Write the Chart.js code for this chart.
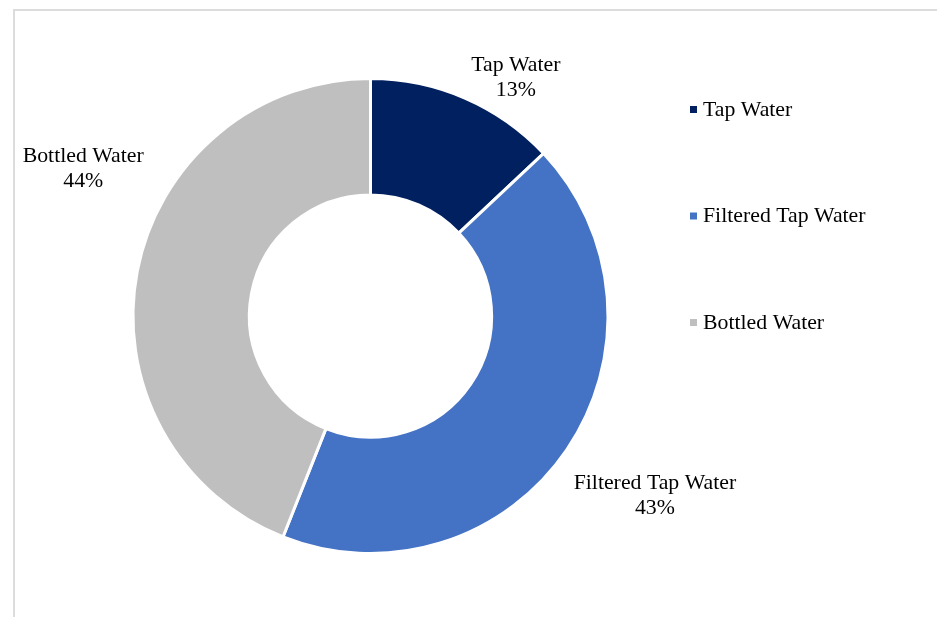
<!DOCTYPE html>
<html>
<head>
<meta charset="utf-8">
<script src="https://cdn.jsdelivr.net/npm/chart.js@4.4.0/dist/chart.umd.min.js"></script>
<style>
    html, body { margin: 0; padding: 0; background: #fff; overflow: hidden; }
    #wrap { position: relative; width: 937px; height: 617px; }
    #frame { position: absolute; left: 13px; top: 9px; width: 940px; height: 620px;
             border-top: 2px solid #dcdcdc; border-left: 2px solid #dcdcdc; }
    canvas { position: absolute; left: 0; top: 0; }
</style>
</head>
<body>
<div id="wrap">
    <div id="frame"></div>
    <canvas id="myChart" width="937" height="617"></canvas>
</div>
<script>
const categories = ["Tap Water", "Filtered Tap Water", "Bottled Water"];
const shares = [13, 43, 44];
const sliceColors = ["#002060", "#4472C4", "#BFBFBF"];

// where each data label sits, relative to the outer middle of its slice
const labelShift = [[51, -21], [88, 46], [-54, -103]];

const FONT = "21.8px 'Liberation Serif', 'Times New Roman', serif";

const labelsPlugin = {
    id: "labelsPlugin",
    afterDraw(chart) {
        const ctx = chart.ctx;
        const meta = chart.getDatasetMeta(0);
        ctx.save();
        ctx.font = FONT;
        ctx.fillStyle = "#000";
        ctx.textAlign = "center";
        ctx.textBaseline = "middle";
        meta.data.forEach((arc, i) => {
            const mid = (arc.startAngle + arc.endAngle) / 2;
            const x = arc.x + Math.cos(mid) * arc.outerRadius + labelShift[i][0];
            const y = arc.y + Math.sin(mid) * arc.outerRadius + labelShift[i][1];
            ctx.fillText(categories[i], x, y - 12);
            ctx.fillText(shares[i] + "%", x, y + 13);
        });

        // legend on the right
        const lx = 690;
        let ly = 109;
        ctx.textAlign = "left";
        categories.forEach((name, i) => {
            ctx.fillStyle = sliceColors[i];
            ctx.fillRect(lx, ly - 3, 7, 7);
            ctx.fillStyle = "#000";
            ctx.fillText(name, lx + 13, ly + 1);
            ly += 106.5;
        });
        ctx.restore();
    }
};

const ctx = document.getElementById("myChart").getContext("2d");
const myChart = new Chart(ctx, {
    type: "doughnut",
    data: {
        labels: categories,
        datasets: [{
            data: shares,
            backgroundColor: sliceColors,
            borderColor: "#ffffff",
            borderWidth: 3
        }]
    },
    options: {
        responsive: false,
        animation: false,
        cutout: "51%",
        layout: {
            padding: { left: 131.5, right: 327.5, top: 77, bottom: 62 }
        },
        plugins: {
            legend: { display: false },
            tooltip: { enabled: false }
        }
    },
    plugins: [labelsPlugin]
});
</script>
</body>
</html>
